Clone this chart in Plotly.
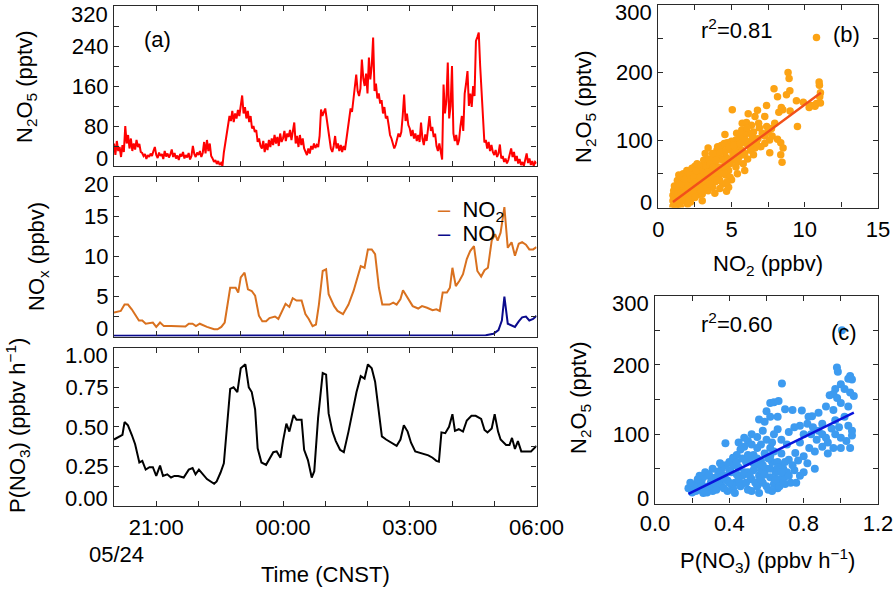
import pandas as pd
import plotly.graph_objects as go

W, H = 896, 592
FONT = "Liberation Sans, Arial, Helvetica, sans-serif"
FS = 22
BASE = pd.Timestamp("2014-05-24 20:00")

# ---------------- data ----------------
# N2O5 (pptv), one value every 2 minutes from 20:00 to 06:00
n2o5_pptv = [
    45, 22, 50, 30, 38, 18, 42, 28, 80, 45, 62, 35, 55, 30, 45, 33, 52, 38, 44, 28, 26, 20, 24, 14, 22, 18, 25, 20, 30, 38,
    22, 16, 27, 20, 24, 14, 30, 19, 25, 17, 23, 33, 18, 26, 15, 21, 12, 24, 19, 28, 15, 22, 17, 26, 13, 20, 40, 24, 18, 27,
    22, 30, 18, 26, 48, 25, 52, 30, 45, 20, 15, 8, 12, 4, 10, 2, 6, 0, 27, 45, 70, 85, 100, 90, 110, 88, 105, 95, 112, 100,
    125, 141, 105, 118, 95, 110, 88, 100, 75, 80, 68, 72, 48, 55, 40, 35, 50, 28, 45, 32, 52, 38, 55, 42, 62, 45, 58, 40, 65, 48,
    55, 70, 50, 65, 58, 72, 52, 66, 87, 45, 60, 38, 62, 42, 55, 35, 28, 22, 35, 25, 40, 33, 45, 36, 42, 38, 60, 113, 100, 108,
    115, 95, 70, 55, 35, 28, 40, 60, 35, 45, 30, 42, 28, 40, 32, 55, 80, 95, 115, 108, 133, 165, 183, 150, 140, 155, 213, 175, 160, 185,
    145, 217, 173, 200, 257, 150, 165, 135, 145, 125, 132, 105, 118, 95, 100, 82, 62, 55, 45, 35, 42, 55, 65, 58, 68, 100, 143, 90, 105, 82,
    75, 60, 72, 55, 65, 50, 62, 48, 87, 55, 42, 63, 50, 75, 100, 70, 78, 58, 65, 40, 30, 45, 25, 13, 163, 105, 130, 207, 95, 120,
    200, 65, 50, 62, 42, 52, 80, 100, 70, 145, 165, 190, 120, 145, 118, 160, 140, 250, 258, 267, 200, 150, 120, 47, 52, 35, 48, 30, 42, 28,
    22, 32, 18, 25, 43, 15, 20, 8, 15, 5, 12, 22, 35, 18, 28, 10, 20, 5, 14, 2, 8, 0, 12, 25, 6, 15, 2, 10, 0, 8, 5,
]
n2o5_step = "2min"

# NO2 and NO (ppbv), hours after 20:00
no2_hours = [0, 0.16, 0.25, 0.33, 0.42, 0.59, 0.67, 0.75, 0.92, 1.0, 1.09, 1.18, 1.35, 1.52, 1.69, 1.77, 1.86, 1.94,
             2.03, 2.2, 2.37, 2.45, 2.54, 2.62, 2.75, 2.88, 2.94, 3.0, 3.09, 3.17, 3.26, 3.34, 3.43, 3.51, 3.6, 3.68,
             3.81, 3.89, 3.98, 4.06, 4.15, 4.23, 4.32, 4.44, 4.53, 4.61, 4.7, 4.78, 4.85, 4.94, 5.02, 5.08, 5.21, 5.29,
             5.42, 5.55, 5.67, 5.76, 5.84, 5.93, 6.01, 6.1, 6.18, 6.27, 6.35, 6.52, 6.61, 6.69, 6.78, 6.84, 6.95, 7.07,
             7.2, 7.29, 7.41, 7.54, 7.63, 7.71, 7.78, 7.88, 7.95, 8.01, 8.09, 8.18, 8.26, 8.35, 8.43, 8.52, 8.6, 8.69,
             8.77, 8.85, 8.94, 9.02, 9.08, 9.15, 9.24, 9.32, 9.41, 9.49, 9.58, 9.66, 9.75, 9.83, 9.92, 10.0]
no2_ppbv = [3.0, 3.2, 4.0, 4.0, 3.4, 2.0, 2.0, 1.6, 1.75, 1.2, 1.75, 1.3, 1.3, 1.3, 1.25, 1.6, 1.6, 1.3,
            1.6, 1.2, 0.9, 0.9, 1.2, 1.75, 6.1, 6.1, 5.5, 7.4, 8.0, 5.9, 5.7, 5.1, 2.6, 1.9, 1.9, 2.3,
            2.5, 2.2, 3.2, 4.1, 3.7, 4.8, 4.5, 4.5, 2.8, 2.2, 1.3, 1.5, 4.0, 8.2, 8.4, 5.3, 3.8, 3.2,
            2.8, 4.0, 5.7, 7.4, 8.8, 8.6, 10.9, 10.9, 10.3, 6.1, 4.0, 4.0, 4.25, 4.0, 4.7, 5.8, 4.9, 3.8,
            3.5, 3.8, 3.6, 3.3, 3.4, 3.2, 5.5, 5.5, 6.1, 8.6, 6.3, 7.0, 7.8, 9.7, 10.7, 11.3, 8.2, 7.5,
            8.3, 8.6, 12.0, 12.8, 12.0, 13.0, 16.2, 11.1, 11.8, 10.1, 11.6, 11.8, 11.5, 10.9, 10.9, 11.2]
no_hours = [0, 2.0, 4.0, 6.0, 8.0, 8.8, 8.98, 9.1, 9.18, 9.24, 9.32, 9.4, 9.49, 9.58, 9.66, 9.75, 9.83, 9.92, 10.0]
no_ppbv = [0.1, 0.1, 0.1, 0.1, 0.1, 0.15, 0.35, 0.8, 2.0, 5.0, 1.6, 1.4, 1.2, 1.9, 2.4, 2.5, 2.0, 2.2, 2.6]

# P(NO3) (ppbv h-1), hours after 20:00
pno3_hours = [0, 0.12, 0.2, 0.25, 0.33, 0.42, 0.5, 0.6, 0.67, 0.75, 0.84, 0.92, 1.0, 1.09, 1.16, 1.26, 1.35, 1.43,
              1.52, 1.65, 1.77, 1.86, 1.93, 2.01, 2.11, 2.2, 2.37, 2.43, 2.52, 2.6, 2.75, 2.83, 2.92, 3.0, 3.11, 3.19,
              3.26, 3.34, 3.4, 3.49, 3.6, 3.68, 3.77, 3.85, 3.94, 4.0, 4.08, 4.15, 4.25, 4.32, 4.44, 4.5, 4.59, 4.68,
              4.74, 4.83, 4.94, 5.02, 5.08, 5.17, 5.25, 5.35, 5.44, 5.55, 5.63, 5.74, 5.84, 5.93, 6.01, 6.1, 6.18,
              6.27, 6.34, 6.44, 6.56, 6.69, 6.78, 6.86, 6.95, 7.03, 7.13, 7.24, 7.33, 7.44, 7.54, 7.63, 7.69, 7.75,
              7.84, 7.93, 8.01, 8.07, 8.16, 8.26, 8.35, 8.46, 8.56, 8.69, 8.77, 8.84, 8.94, 9.01, 9.09, 9.15, 9.28,
              9.36, 9.42, 9.49, 9.56, 9.64, 9.75, 9.87, 10.0]
pno3_rate = [0.42, 0.44, 0.45, 0.53, 0.51, 0.45, 0.39, 0.275, 0.285, 0.23, 0.245, 0.245, 0.19, 0.255, 0.19, 0.20, 0.18, 0.19,
             0.19, 0.18, 0.23, 0.24, 0.20, 0.23, 0.20, 0.17, 0.14, 0.155, 0.21, 0.27, 0.74, 0.75, 0.72, 0.87, 0.895, 0.75,
             0.72, 0.61, 0.365, 0.275, 0.26, 0.30, 0.34, 0.345, 0.305, 0.41, 0.52, 0.47, 0.575, 0.545, 0.545, 0.355, 0.29, 0.18,
             0.22, 0.555, 0.84, 0.83, 0.585, 0.47, 0.41, 0.355, 0.34, 0.47, 0.575, 0.72, 0.82, 0.805, 0.895, 0.87, 0.785,
             0.595, 0.44, 0.42, 0.40, 0.38, 0.42, 0.51, 0.47, 0.40, 0.345, 0.335, 0.325, 0.32, 0.305, 0.285, 0.28, 0.465,
             0.46, 0.50, 0.58, 0.475, 0.485, 0.47, 0.54, 0.57, 0.57, 0.55, 0.48, 0.465, 0.49, 0.58, 0.47, 0.42, 0.385,
             0.385, 0.43, 0.36, 0.41, 0.345, 0.345, 0.345, 0.38]

# scatter (b): NO2 (ppbv) vs N2O5 (pptv)
b_points = [
    (8.86, 200), (8.93, 191), (10.98, 186), (11.0, 181), (11.07, 170), (11.02, 164), (11.07, 155), (10.3, 148),
    (10.45, 151), (10.7, 150), (10.8, 154), (9.9, 156), (9.43, 158), (8.98, 173), (8.75, 167), (8.14, 164),
    (7.9, 176), (8.4, 148), (8.5, 145), (8.23, 141), (9.0, 143), (9.5, 120), (7.39, 151), (6.77, 144), (6.14, 139),
    (5.05, 145), (6.6, 135), (7.27, 135), (5.73, 125), (6.02, 126), (6.36, 122), (7.95, 125), (7.73, 117),
    (7.5, 112), (7.27, 106), (7.77, 106), (8.14, 101), (8.36, 96), (8.52, 88), (8.36, 78), (8.45, 67), (7.61, 81),
    (7.27, 95), (10.8, 252),
    (6.9, 118), (6.5, 112), (6.2, 110), (5.9, 108), (5.6, 105), (5.3, 100), (5.0, 98), (4.7, 96), (4.55, 108),
    (4.3, 92), (3.4, 88), (4.0, 85), (4.5, 82), (5.0, 85), (5.5, 90), (6.0, 95), (6.4, 100), (6.8, 102), (7.0, 90),
    (6.6, 88), (6.3, 85), (5.9, 80), (5.5, 75), (5.2, 70), (4.9, 65), (4.6, 68), (4.2, 72), (3.8, 75), (3.6, 70),
    (3.9, 62), (4.3, 58), (4.8, 55), (5.3, 60), (5.8, 65), (6.1, 72), (6.5, 78), (5.7, 85), (5.4, 92), (4.6, 75),
    (4.1, 78), (3.3, 68), (3.5, 58), (3.1, 60), (2.9, 55), (3.7, 50), (4.1, 45), (4.6, 48), (5.0, 41), (4.66, 24),
    (3.86, 21), (2.73, 19), (2.5, 61),
    (1.0, 2), (1.1, 8), (1.2, 15), (1.0, 18), (1.3, 25), (1.2, 0), (1.4, 5), (1.5, 12), (1.6, 20), (1.5, 30),
    (1.7, 28), (1.8, 15), (1.9, 35), (2.0, 22), (2.1, 40), (2.2, 30), (2.0, 45), (2.3, 18), (2.4, 35), (2.5, 48),
    (2.6, 28), (2.7, 40), (2.8, 52), (2.9, 35), (3.0, 45), (3.1, 30), (3.2, 50), (3.3, 40), (3.4, 25), (3.5, 42),
    (3.6, 35), (3.7, 30), (3.8, 45), (3.9, 38), (4.0, 55), (4.2, 40), (4.4, 35), (4.5, 52), (4.8, 30), (1.3, 40),
    (1.7, 10), (2.2, 8), (1.1, 32), (1.6, 45), (2.4, 55), (3.0, 20), (3.6, 58), (4.2, 28),
    (1.0, 10), (1.05, 25), (1.15, 0), (1.2, 30), (1.3, 12), (1.35, 20), (1.45, 35), (1.5, 2), (1.55, 22), (1.65, 35),
    (1.7, 50), (1.75, 20), (1.85, 42), (1.9, 25), (1.95, 55), (2.05, 32), (2.1, 12), (2.15, 50), (2.25, 42), (2.3, 58),
    (2.35, 25), (2.45, 45), (2.55, 38), (2.6, 55), (2.65, 65), (2.75, 30), (2.85, 45), (2.9, 62), (2.95, 25), (3.05, 55),
    (3.1, 70), (3.15, 40), (3.25, 62), (3.3, 30), (3.35, 52), (3.45, 72), (3.5, 35), (3.55, 65), (3.65, 45), (3.7, 80),
    (3.75, 60), (3.85, 52), (3.95, 70), (4.0, 40), (4.05, 90), (4.15, 60), (4.25, 82), (4.35, 50), (4.4, 70), (4.5, 95),
    (4.55, 62), (4.65, 85), (4.75, 72), (4.85, 90), (4.9, 45), (5.1, 78), (5.15, 92), (5.25, 82), (5.35, 110), (5.45, 68),
    (5.6, 95), (5.7, 115), (5.8, 78), (5.95, 100), (6.05, 118), (6.25, 92), (6.45, 105), (6.7, 95), (6.85, 125), (7.1, 110),
    (7.4, 120), (7.6, 100), (3.2, 80), (3.0, 10), (2.5, 15), (2.0, 5), (1.4, 48), (4.7, 38), (5.4, 50), (5.9, 55),
]
b_fit_x = [1.0, 11.1]
b_fit_y = [8, 170]

# scatter (c): P(NO3) (ppbv h-1) vs N2O5 (pptv)
c_points = [
    (0.979, 196), (0.984, 190), (0.683, 173), (1.05, 184), (1.06, 179), (1.04, 180), (0.97, 165), (1.0, 172),
    (1.02, 165), (1.05, 160), (1.07, 155), (0.94, 156), (0.96, 158), (0.98, 152), (1.006, 250),
    (0.62, 145), (0.64, 146), (0.665, 148), (0.60, 133), (0.62, 125), (0.70, 136), (0.74, 135), (0.79, 134),
    (0.88, 131), (0.845, 126), (0.826, 125), (0.56, 121), (0.59, 118),
    (0.85, 110), (0.88, 105), (0.9, 100), (0.92, 95), (0.95, 108), (0.97, 100), (1.0, 95), (1.03, 90), (1.06, 98),
    (1.05, 80), (1.0, 80), (0.96, 80), (0.93, 88), (0.87, 92), (0.84, 100), (0.9, 115), (0.97, 120), (1.04, 112),
    (1.06, 105), (0.82, 115), (0.78, 112), (0.75, 110), (0.72, 103), (0.66, 107), (0.64, 100),
    (0.755, 73), (0.77, 62), (0.8, 68), (0.72, 63), (0.70, 39), (0.68, 55), (0.62, 80), (0.6, 92), (0.57, 85),
    (0.55, 96), (0.52, 100), (0.5, 90), (0.48, 82), (0.46, 78), (0.44, 70), (0.42, 66), (0.379, 87), (0.4, 60),
    (0.38, 55), (0.36, 50), (0.34, 46),
    (0.18, 22), (0.2, 16), (0.22, 28), (0.24, 20), (0.25, 32), (0.27, 24), (0.28, 16), (0.3, 30), (0.32, 22),
    (0.33, 38), (0.35, 28), (0.37, 40), (0.39, 33), (0.41, 45), (0.43, 30), (0.45, 52), (0.47, 40), (0.49, 60),
    (0.5, 45), (0.52, 35), (0.53, 70), (0.54, 55), (0.55, 25), (0.56, 40), (0.57, 62), (0.58, 30), (0.6, 50),
    (0.61, 20), (0.62, 38), (0.63, 60), (0.64, 28), (0.65, 45), (0.66, 22), (0.67, 35), (0.69, 50), (0.7, 28),
    (0.71, 45), (0.73, 30), (0.75, 48), (0.78, 40), (0.5, 20), (0.47, 28), (0.44, 42), (0.42, 22), (0.39, 18),
    (0.36, 25), (0.31, 18), (0.26, 38), (0.23, 35), (0.21, 25), (0.57, 48), (0.53, 48), (0.59, 72), (0.55, 80),
    (0.51, 62), (0.62, 68), (0.66, 60), (0.68, 72), (0.8, 45), (0.82, 58), (0.86, 50),
    (0.19, 30), (0.22, 18), (0.24, 40), (0.26, 15), (0.27, 45), (0.29, 25), (0.3, 38), (0.31, 50), (0.33, 20),
    (0.34, 30), (0.35, 58), (0.37, 22), (0.38, 35), (0.4, 48), (0.41, 28), (0.42, 55), (0.43, 15), (0.44, 60),
    (0.45, 35), (0.46, 25), (0.47, 65), (0.48, 45), (0.49, 30), (0.5, 70), (0.51, 40), (0.52, 18), (0.53, 58),
    (0.54, 30), (0.55, 65), (0.56, 15), (0.57, 35), (0.58, 55), (0.59, 42), (0.6, 25), (0.61, 65), (0.62, 50),
    (0.63, 18), (0.64, 75), (0.65, 35), (0.66, 52), (0.67, 25), (0.68, 45), (0.69, 30), (0.7, 60), (0.72, 40),
    (0.74, 55), (0.76, 30), (0.48, 95), (0.45, 88), (0.52, 85), (0.58, 105), (0.63, 88), (0.66, 125), (0.68, 92),
    (0.71, 85), (0.78, 88), (0.8, 100), (0.83, 80), (0.86, 75), (0.9, 82), (0.93, 72), (0.99, 110), (1.02, 125),
    (1.04, 140), (0.92, 140), (0.96, 135), (1.0, 145), (0.4, 30), (0.36, 38), (0.32, 30), (0.29, 42), (0.25, 25),
]
c_fit_x = [0.18, 1.07]
c_fit_y = [14, 131]

time_tick_hours = [1, 4, 7, 10]
time_tick_text = ["21:00", "00:00", "03:00", "06:00"]

# ---------------- helpers ----------------
def hx(hours):
    return BASE + pd.to_timedelta(pd.Series(hours, dtype=float), unit="h")

def px(x):
    return x / W

def py(y):
    return 1 - y / H

TICKCOL = "#2a2a2a"
AX = dict(showline=True, linecolor=TICKCOL, linewidth=1.3, mirror="ticks", ticks="inside",
          ticklen=5, tickwidth=1.1, tickcolor=TICKCOL, showgrid=False, zeroline=False, automargin=False,
          tickfont=dict(family=FONT, size=FS, color="black"))

def minor(vals):
    return dict(tickmode="array", tickvals=vals, ticks="inside", ticklen=5, tickwidth=1.1,
                tickcolor=TICKCOL, showgrid=False)

def steps(lo, hi, step):
    n = int(round((hi - lo) / step))
    return [lo + i * step for i in range(n + 1)]

fig = go.Figure()

n2o5_time = pd.date_range(BASE, periods=len(n2o5_pptv), freq=n2o5_step)
fig.add_trace(go.Scatter(x=n2o5_time, y=n2o5_pptv, mode="lines", line=dict(color="#ff0000", width=2),
                         xaxis="x", yaxis="y", showlegend=False))
fig.add_trace(go.Scatter(x=hx(no2_hours), y=no2_ppbv, mode="lines", line=dict(color="#d9711f", width=2),
                         xaxis="x2", yaxis="y2", showlegend=False))
fig.add_trace(go.Scatter(x=hx(no_hours), y=no_ppbv, mode="lines", line=dict(color="#0a0a8c", width=2),
                         xaxis="x2", yaxis="y2", showlegend=False))
fig.add_trace(go.Scatter(x=hx(pno3_hours), y=pno3_rate, mode="lines", line=dict(color="black", width=2),
                         xaxis="x3", yaxis="y3", showlegend=False))

fig.add_trace(go.Scatter(x=[p[0] for p in b_points], y=[p[1] for p in b_points], mode="markers",
                         marker=dict(color="#fca314", size=7.5, line=dict(width=0)),
                         xaxis="x4", yaxis="y4", showlegend=False))
fig.add_trace(go.Scatter(x=b_fit_x, y=b_fit_y, mode="lines", line=dict(color="#f2501a", width=2.5),
                         xaxis="x4", yaxis="y4", showlegend=False))
fig.add_trace(go.Scatter(x=[p[0] for p in c_points], y=[p[1] for p in c_points], mode="markers",
                         marker=dict(color="#3d9bf0", size=8, line=dict(width=0)),
                         xaxis="x5", yaxis="y5", showlegend=False))
fig.add_trace(go.Scatter(x=c_fit_x, y=c_fit_y, mode="lines", line=dict(color="#0a14dc", width=2.5),
                         xaxis="x5", yaxis="y5", showlegend=False))

# ---------------- axes ----------------
t_range = [BASE, BASE + pd.Timedelta(hours=10)]
t_major = list(hx(time_tick_hours))
t_minor = list(pd.date_range(BASE, periods=11, freq="h"))
A_L, A_R = 114, 536.5

def time_axis(anchor, labels):
    d = dict(AX, type="date", range=t_range, domain=[px(A_L), px(A_R)], anchor=anchor, tickmode="array",
             tickvals=t_major, ticktext=time_tick_text, showticklabels=labels, minor=minor(t_minor))
    if labels:
        d["ticklabelstandoff"] = 1
    return d

def y_axis(rng, dom, anchor, major, minor_step):
    return dict(AX, range=rng, domain=dom, anchor=anchor, tickmode="array", tickvals=major,
                minor=minor(steps(rng[0], rng[1], minor_step)))

P1 = (6, 166)
P2 = (176.7, 336.5)
P3 = (347.7, 506)
PB = (5, 207.5)
PC = (295.5, 503.5)
B_L, C_L, BC_R = 658.3, 655, 878

fig.update_layout(
    width=W, height=H, margin=dict(l=0, r=0, t=0, b=0),
    paper_bgcolor="white", plot_bgcolor="white",
    font=dict(family=FONT, size=FS, color="black"),
    xaxis=time_axis("y", False),
    xaxis2=time_axis("y2", False),
    xaxis3=time_axis("y3", True),
    yaxis=dict(y_axis([0, 320], [py(P1[1]), py(P1[0])], "x", [80, 160, 240], 40), ticktext=["80", "160", "240"]),
    yaxis2=dict(y_axis([0, 20], [py(P2[1]), py(P2[0])], "x2", [5, 10, 15], 2.5), ticktext=["5", "10", "15"]),
    yaxis3=dict(y_axis([0, 1], [py(P3[1]), py(P3[0])], "x3", [0.25, 0.5, 0.75], 0.125), ticktext=["0.25", "0.50", "0.75"]),
    xaxis4=dict(AX, range=[0, 15], domain=[px(B_L), px(BC_R)], anchor="y4", tickmode="array",
                tickvals=[0, 5, 10, 15], ticktext=["0", "5", "10", "15"], ticklabelstandoff=2, minor=minor(steps(0, 15, 2.5))),
    yaxis4=dict(y_axis([0, 300], [py(PB[1]), py(PB[0])], "x4", [100, 200], 50), ticktext=["100", "200"]),
    xaxis5=dict(AX, range=[0, 1.2], domain=[px(C_L), px(BC_R)], anchor="y5", tickmode="array",
                tickvals=[0, 0.4, 0.8, 1.2], ticktext=["0.0", "0.4", "0.8", "1.2"], ticklabelstandoff=0,
                minor=minor(steps(0, 1.2, 0.2))),
    yaxis5=dict(y_axis([0, 300], [py(PC[1]), py(PC[0])], "x5", [100, 200], 50), ticktext=["100", "200"]),
)

def note(text, x, y, angle=0, size=FS, xanchor="center"):
    fig.add_annotation(text=text, xref="paper", yref="paper", x=px(x), y=py(y), showarrow=False,
                       textangle=angle, xanchor=xanchor, yanchor="middle",
                       font=dict(family=FONT, size=size, color="black"))

# end tick labels, nudged inside the frame as in the original
def end_labels(left, top, bottom, top_text, bottom_text, shift_top=8, shift_bottom=8):
    note(top_text, left - 4, top + shift_top, xanchor="right")
    note(bottom_text, left - 4, bottom - shift_bottom, xanchor="right")

end_labels(A_L, P1[0], P1[1], "320", "0")
end_labels(A_L, P2[0], P2[1], "20", "0")
end_labels(A_L, P3[0], P3[1], "1.00", "0.00")
end_labels(B_L, PB[0], PB[1], "300", "0", shift_top=7.5, shift_bottom=5)
end_labels(C_L, PC[0], PC[1], "300", "0", shift_top=7.5, shift_bottom=5)

note("N<sub>2</sub>O<sub>5</sub> (pptv)", 26, 87, angle=-90)
note("NO<sub>x</sub> (ppbv)", 38, 257, angle=-90)
note("P(NO<sub>3</sub>) (ppbv h<sup>−1</sup>)", 17, 426, angle=-90)
note("(a)", 157, 39)
note("05/24", 116, 554)
note("Time (CNST)", 325, 574)
note('<span style="color:#d9711f">–</span>  NO<sub>2</sub>', 436, 211, xanchor="left")
note('<span style="color:#0a0a8c">–</span>  NO', 436, 233, xanchor="left")

note("N<sub>2</sub>O<sub>5</sub> (pptv)", 585, 107, angle=-90)
note("NO<sub>2</sub> (ppbv)", 768, 265)
note("r<sup>2</sup>=0.81", 737, 29)
note("(b)", 846, 35)

note("N<sub>2</sub>O<sub>5</sub> (pptv)", 580, 398, angle=-90)
note("P(NO<sub>3</sub>) (ppbv h<sup>−1</sup>)", 767, 560)
note("r<sup>2</sup>=0.60", 737, 323)
note("(c)", 844, 332)

# the page's default 8 px body margin would push the 896x592 figure off the window
fig.write_html("out.html", config={"displayModeBar": False},
               post_script="document.body.style.margin='0';")
